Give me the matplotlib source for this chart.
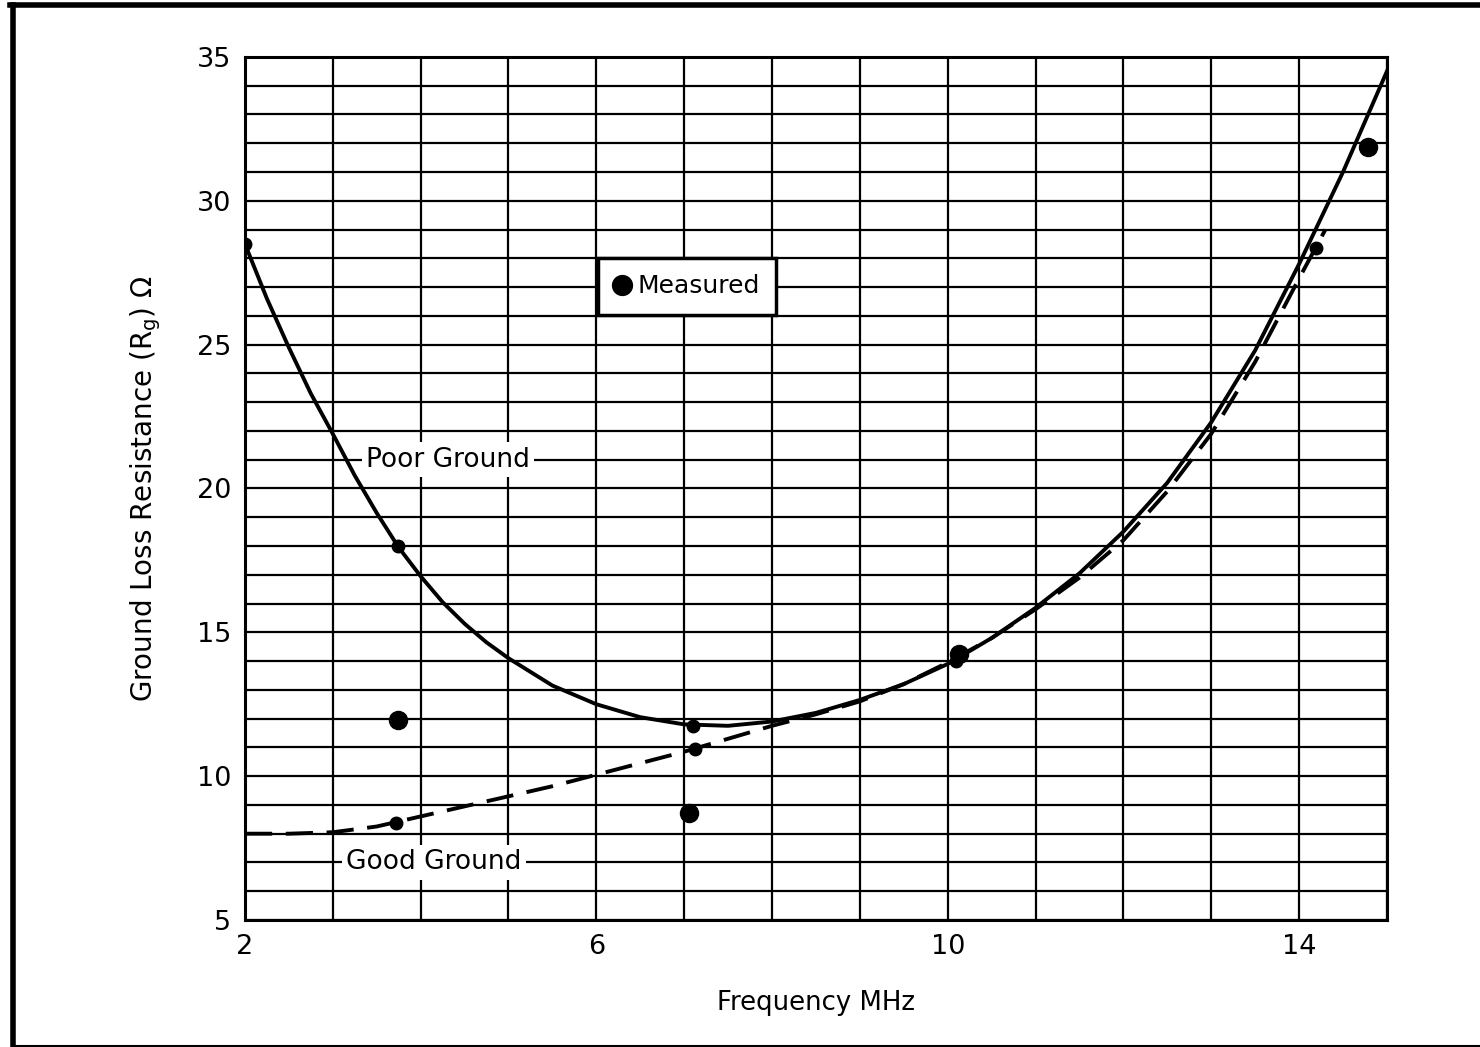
import numpy as np
import matplotlib
matplotlib.use("Agg")
import matplotlib.pyplot as plt
from matplotlib.lines import Line2D
from matplotlib.ticker import MultipleLocator, FixedLocator

plt.rcParams["font.family"] = ["DejaVu Sans"]

# poor ground curve (solid)
poor_f = [2.0, 2.25, 2.5, 2.75, 3.0, 3.25, 3.5, 3.75, 4.0, 4.25, 4.5, 4.75, 5.0,
          5.5, 6.0, 6.5, 7.0, 7.5, 8.0, 8.5, 9.0, 9.5, 10.0, 10.5, 11.0, 11.5,
          12.0, 12.5, 13.0, 13.5, 14.0, 14.5, 15.0]
poor_r = [28.5, 26.6, 24.9, 23.3, 21.9, 20.45, 19.15, 17.95, 16.95, 16.05, 15.3,
          14.65, 14.1, 13.15, 12.5, 12.05, 11.8, 11.75, 11.9, 12.2, 12.65, 13.2,
          13.9, 14.8, 15.85, 17.05, 18.5, 20.2, 22.3, 24.8, 27.8, 31.0, 34.5]

# good ground curve (dashed)
good_f = [2.0, 2.5, 3.0, 3.5, 4.0, 4.5, 5.0, 5.5, 6.0, 6.5, 7.0, 7.5, 8.0, 8.5,
          9.0, 9.5, 10.0, 10.5, 11.0, 11.5, 12.0, 12.5, 13.0, 13.5, 14.0, 14.3]
good_r = [8.0, 8.0, 8.05, 8.25, 8.6, 8.95, 9.3, 9.65, 10.05, 10.45, 10.85, 11.3,
          11.75, 12.15, 12.6, 13.2, 13.95, 14.8, 15.8, 16.9, 18.2, 19.9, 21.9,
          24.4, 27.3, 29.0]

# measured points, big = heavier dot in the print
meas_f = [2.0, 3.74, 3.74, 3.72, 7.05, 7.1, 7.12, 10.13, 10.1, 14.19, 14.79]
meas_r = [28.5, 18.0, 11.95, 8.37, 8.72, 11.74, 10.94, 14.25, 14.0, 28.36, 31.87]
meas_big = [0, 0, 1, 0, 1, 0, 0, 1, 0, 0, 1]

x_ticks = [2, 6, 10, 14]
y_ticks = [5, 10, 15, 20, 25, 30, 35]

fig = plt.figure(figsize=(14.8, 10.47), dpi=100)
ax = fig.add_axes([0.1655, 0.1213, 0.7716, 0.8243])

ax.set_xlim(2, 15)
ax.set_ylim(5, 35)
ax.xaxis.set_major_locator(FixedLocator(x_ticks))
ax.yaxis.set_major_locator(FixedLocator(y_ticks))
ax.xaxis.set_minor_locator(MultipleLocator(1))
ax.yaxis.set_minor_locator(MultipleLocator(1))
ax.grid(which="both", color="black", linewidth=1.6, zorder=0)
ax.set_axisbelow(True)
ax.tick_params(which="both", length=0, labelsize=19.5, pad=10)
for s in ax.spines.values():
    s.set_linewidth(2.2)

ax.plot(poor_f, poor_r, color="black", linewidth=2.8, zorder=3,
        solid_joinstyle="round")
ax.plot(good_f, good_r, color="black", linewidth=2.8, linestyle=(0, (7, 3.5)),
        zorder=3)

big = np.array(meas_big, dtype=bool)
mf = np.array(meas_f)
mr = np.array(meas_r)
ax.plot(mf[~big], mr[~big], "o", color="black", markersize=9, zorder=4)
ax.plot(mf[big], mr[big], "o", color="black", markersize=13, zorder=4,
        label="Measured")

box = dict(facecolor="white", edgecolor="none", pad=3)
ax.text(4.31, 21, "Poor Ground", fontsize=19, ha="center", va="center",
        bbox=box, zorder=2)
ax.text(4.15, 7, "Good Ground", fontsize=19, ha="center", va="center",
        bbox=box, zorder=2)

leg = ax.legend(loc="upper left", bbox_to_anchor=(0.309, 0.767), fontsize=18,
                handletextpad=0.35, handlelength=0.6, borderpad=0.65,
                markerscale=1.1, fancybox=False, framealpha=1,
                edgecolor="black", borderaxespad=0)
leg.get_frame().set_linewidth(2.5)
leg.set_zorder(5)

ax.set_xlabel("Frequency MHz", fontsize=18.7, labelpad=22)
ax.set_ylabel("Ground Loss Resistance (R$_\\mathregular{g}$) \u03a9", fontsize=20,
              labelpad=24)

# page frame from the scan
fig.add_artist(Line2D([0.007, 1.0], [0.9955, 0.9955], color="black", linewidth=4))
fig.add_artist(Line2D([0.0085, 0.0085], [0.0, 0.9955], color="black", linewidth=4))
fig.add_artist(Line2D([0.0085, 1.0], [0.001, 0.001], color="black", linewidth=1.5))

fig.savefig("out.png", dpi=100, facecolor="white")
